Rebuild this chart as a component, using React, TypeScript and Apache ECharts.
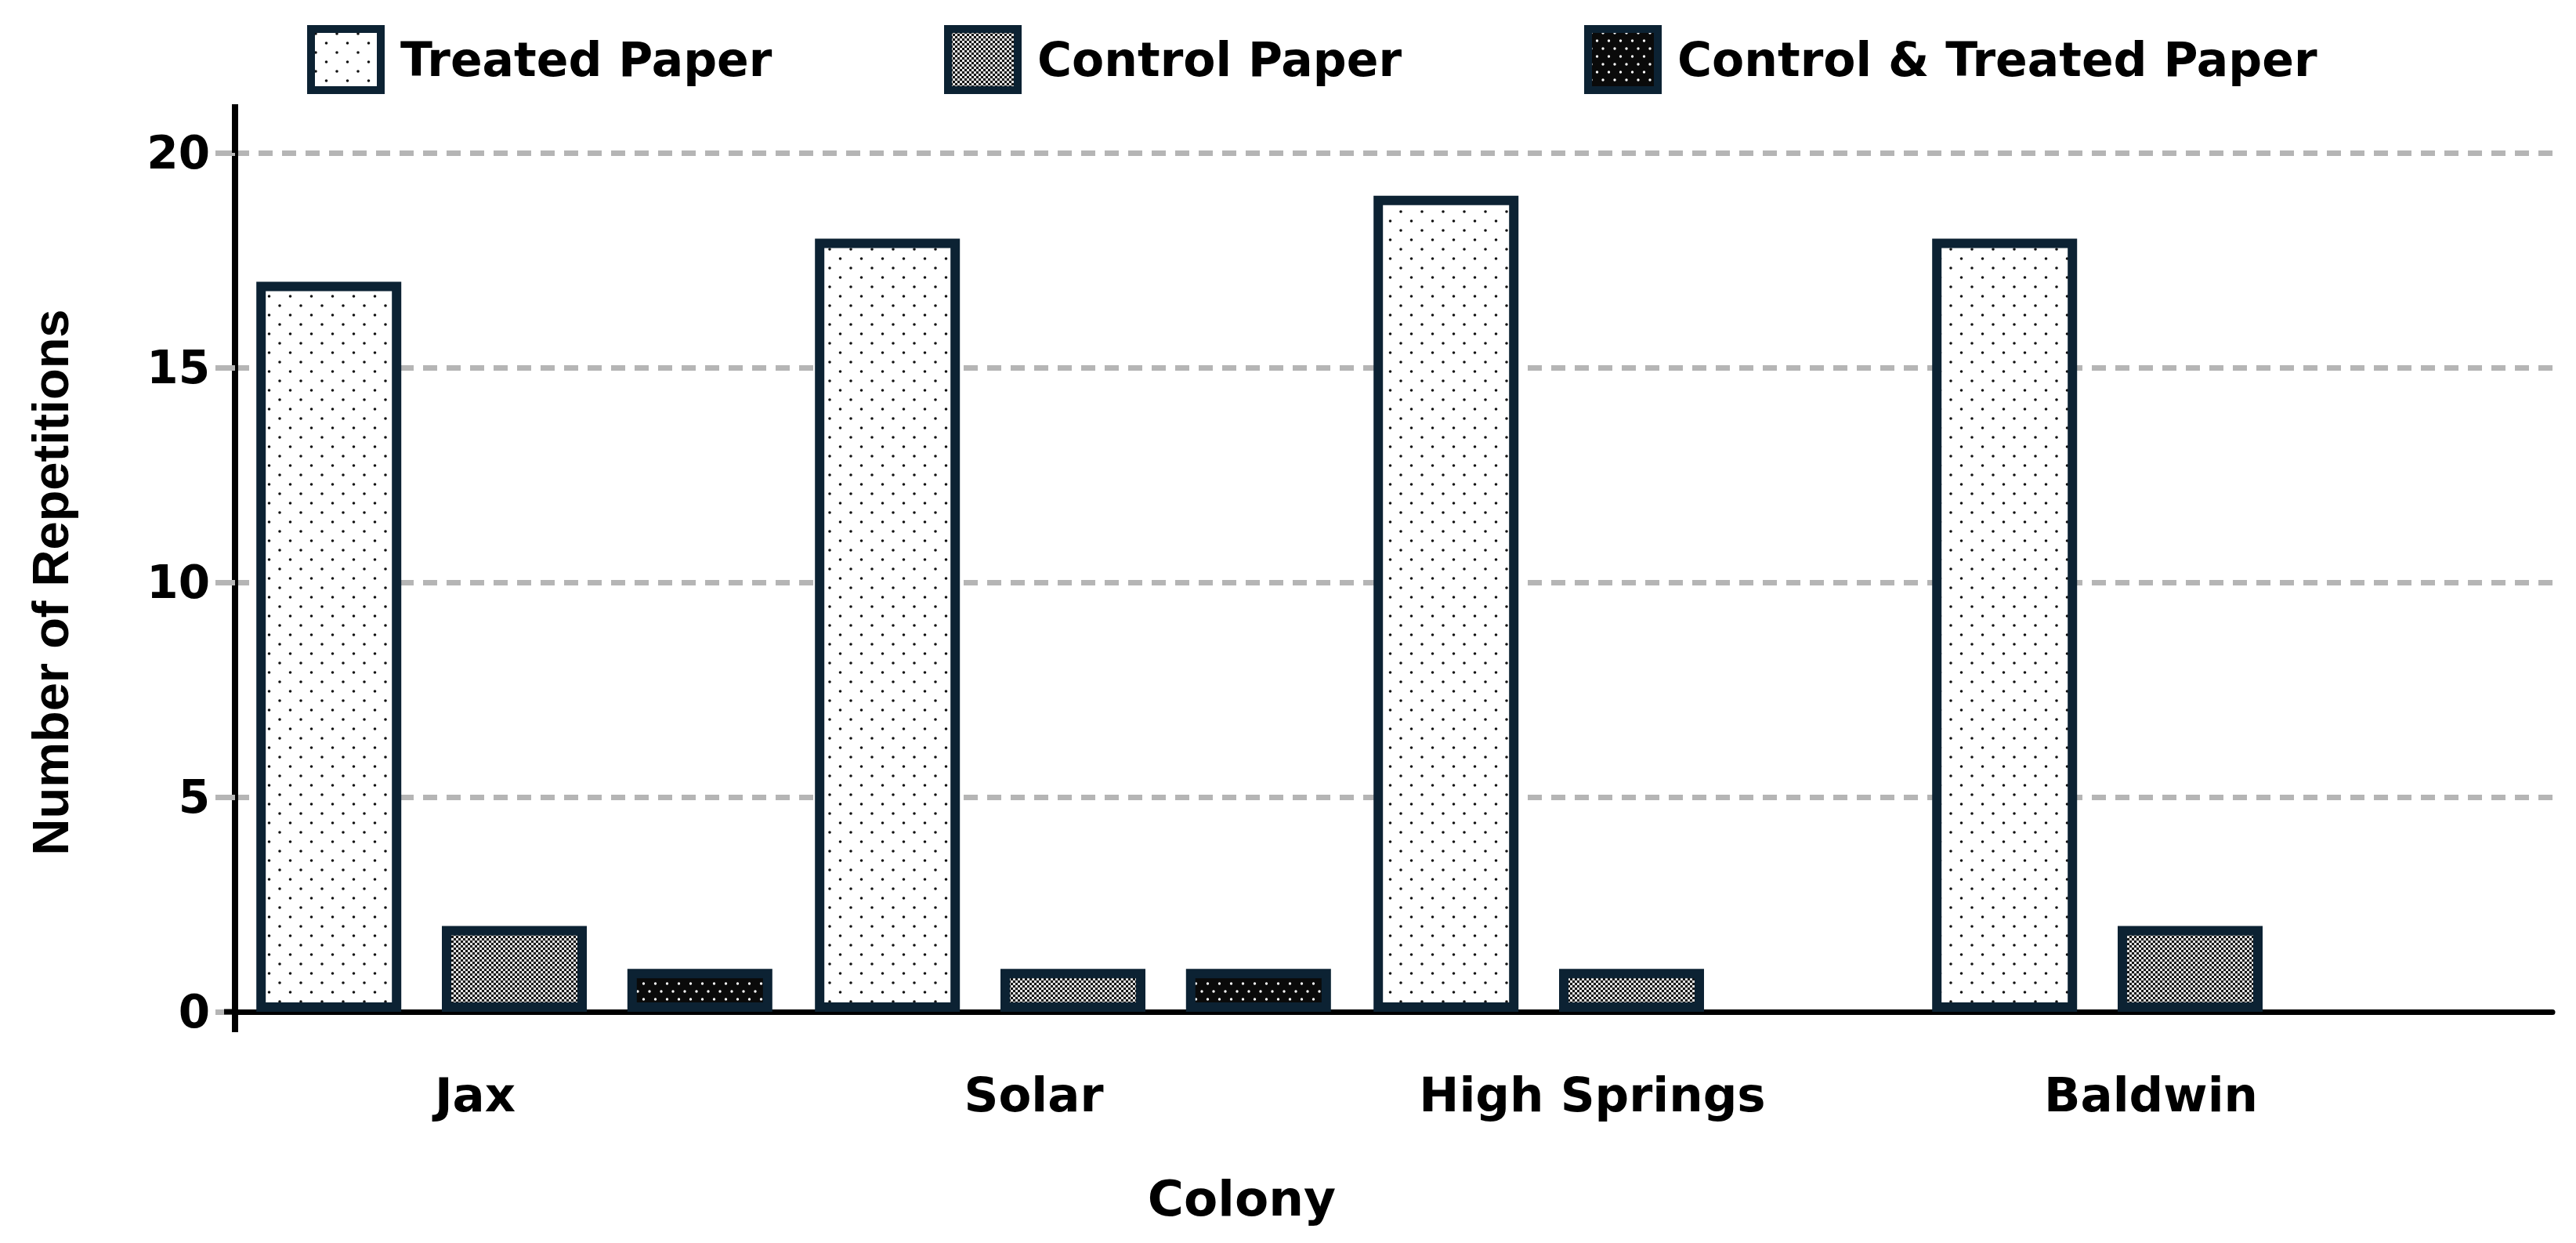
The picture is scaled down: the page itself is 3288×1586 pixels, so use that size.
import { useRef, useEffect } from "react";
import * as echarts from "echarts";

const categories = ["Jax", "Solar", "High Springs", "Baldwin"];
const seriesNames = ["Treated Paper", "Control Paper", "Control & Treated Paper"];
const treatedPaper = [17, 18, 19, 18];
const controlPaper = [2, 1, 1, 2];
const controlTreatedPaper = [1, 1, null, null];
const yTicks = [0, 5, 10, 15, 20];

const navy = "#0c2233";
const font = "DejaVu Sans";
const gridGray = "#b5b5b5";

// small repeating tiles drawn on a canvas, used as pattern fills
const dotTile = (w: number, h: number, bg: string, fg: string, r: number, dots: number[][]) => {
  const c = document.createElement("canvas");
  c.width = w;
  c.height = h;
  const ctx = c.getContext("2d")!;
  ctx.fillStyle = bg;
  ctx.fillRect(0, 0, w, h);
  ctx.fillStyle = fg;
  dots.forEach(([x, y]) => {
    ctx.beginPath();
    ctx.arc(x, y, r, 0, Math.PI * 2);
    ctx.fill();
  });
  return { image: c, repeat: "repeat", imageWidth: w, imageHeight: h };
};

const checkerTile = (size: number, a: string, b: string) => {
  const c = document.createElement("canvas");
  c.width = size * 2;
  c.height = size * 2;
  const ctx = c.getContext("2d")!;
  ctx.fillStyle = b;
  ctx.fillRect(0, 0, size * 2, size * 2);
  ctx.fillStyle = a;
  ctx.fillRect(0, 0, size, size);
  ctx.fillRect(size, size, size, size);
  return { image: c, repeat: "repeat", imageWidth: size * 2, imageHeight: size * 2 };
};

const buildOption = () => {
  const patterns = [
    dotTile(27, 24, "#ffffff", "#111111", 1.8, [[6, 6], [19.5, 18]]),
    checkerTile(3, "#151515", "#e2e2e2"),
    dotTile(15, 20, "#0a0a0a", "#ffffff", 1.7, [[4, 5], [11.5, 15]]),
  ];
  const values = [treatedPaper, controlPaper, controlTreatedPaper];
  const legendLefts = [392, 1205, 2022];

  const labelFont = { fontFamily: font, fontWeight: "bold" as const, color: "#000" };

  return {
    animation: false,
    backgroundColor: "#ffffff",
    legend: seriesNames.map((name, i) => ({
      data: [name],
      left: legendLefts[i],
      top: 32,
      padding: 0,
      icon: "rect",
      itemWidth: 89,
      itemHeight: 78,
      selectedMode: false,
      itemStyle: { borderColor: navy, borderWidth: 10 },
      textStyle: { ...labelFont, fontSize: 60, padding: [0, 0, 20, 20] },
    })),
    grid: [
      { left: 300, right: 30, top: 195, bottom: 295 },
      { left: 300, right: 136, top: 195, bottom: 295 },
    ],
    xAxis: [
      {
        gridIndex: 0,
        type: "value",
        min: 0,
        max: 1,
        axisLine: { show: true, lineStyle: { color: "#000", width: 7 } },
        axisTick: { show: false },
        axisLabel: { show: false },
        splitLine: { show: false },
      },
      {
        gridIndex: 1,
        type: "category",
        data: categories,
        axisLine: { show: false },
        axisTick: { show: false },
        axisLabel: {
          interval: 0,
          margin: 75,
          ...labelFont,
          fontSize: 61,
          formatter: (v: string) => `{a|${v}}`,
          rich: { a: { ...labelFont, fontSize: 61, padding: [0, 100, 0, 0] } },
        },
      },
    ],
    yAxis: [
      {
        gridIndex: 0,
        type: "value",
        min: yTicks[0],
        max: yTicks[yTicks.length - 1],
        interval: yTicks[1] - yTicks[0],
        axisLine: { show: true, lineStyle: { color: "#000", width: 8 } },
        axisTick: { show: true, length: 25, lineStyle: { color: gridGray, width: 7 } },
        axisLabel: { margin: 32, ...labelFont, fontSize: 58 },
        splitLine: { show: true, lineStyle: { type: [18, 12], color: gridGray, width: 7 } },
      },
      {
        gridIndex: 1,
        type: "value",
        min: yTicks[0],
        max: yTicks[yTicks.length - 1],
        interval: yTicks[1] - yTicks[0],
        show: false,
      },
    ],
    series: seriesNames.map((name, i) => ({
      name,
      type: "bar",
      xAxisIndex: 1,
      yAxisIndex: 1,
      data: values[i],
      barWidth: 185,
      barGap: "28%",
      itemStyle: { color: patterns[i], borderColor: navy, borderWidth: 12 },
      emphasis: { disabled: true },
    })),
    graphic: [
      // axis line ends past the plot area
      { type: "line", z: 10, shape: { x1: 300, y1: 133, x2: 300, y2: 195 }, style: { stroke: "#000", lineWidth: 8 } },
      { type: "line", z: 10, shape: { x1: 300, y1: 1291, x2: 300, y2: 1317 }, style: { stroke: "#000", lineWidth: 8 } },
      { type: "line", z: 10, shape: { x1: 286, y1: 1291, x2: 300, y2: 1291 }, style: { stroke: "#000", lineWidth: 7 } },
      {
        type: "text",
        x: 64,
        y: 743,
        rotation: Math.PI / 2,
        style: {
          text: "Number of Repetitions",
          fontFamily: "Liberation Sans",
          fontWeight: "bold",
          fontSize: 65,
          fill: "#000",
          align: "center",
          verticalAlign: "middle",
          textAlign: "center",
          textVerticalAlign: "middle",
        },
      },
      {
        type: "text",
        x: 1585,
        y: 1529,
        style: {
          text: "Colony",
          fontFamily: font,
          fontWeight: "bold",
          fontSize: 63,
          fill: "#000",
          align: "center",
          verticalAlign: "middle",
          textAlign: "center",
          textVerticalAlign: "middle",
        },
      },
    ],
  };
};

const App = () => {
  const chartRef = useRef<HTMLDivElement>(null);

  useEffect(() => {
    document.body.style.margin = "0";
    const myChart = echarts.init(chartRef.current, null, { renderer: "svg" });
    myChart.setOption(buildOption() as any);
    return () => {
      myChart.dispose();
    };
  }, []);

  return <div ref={chartRef} style={{ width: "3288px", height: "1586px" }}></div>;
};

export default App;
